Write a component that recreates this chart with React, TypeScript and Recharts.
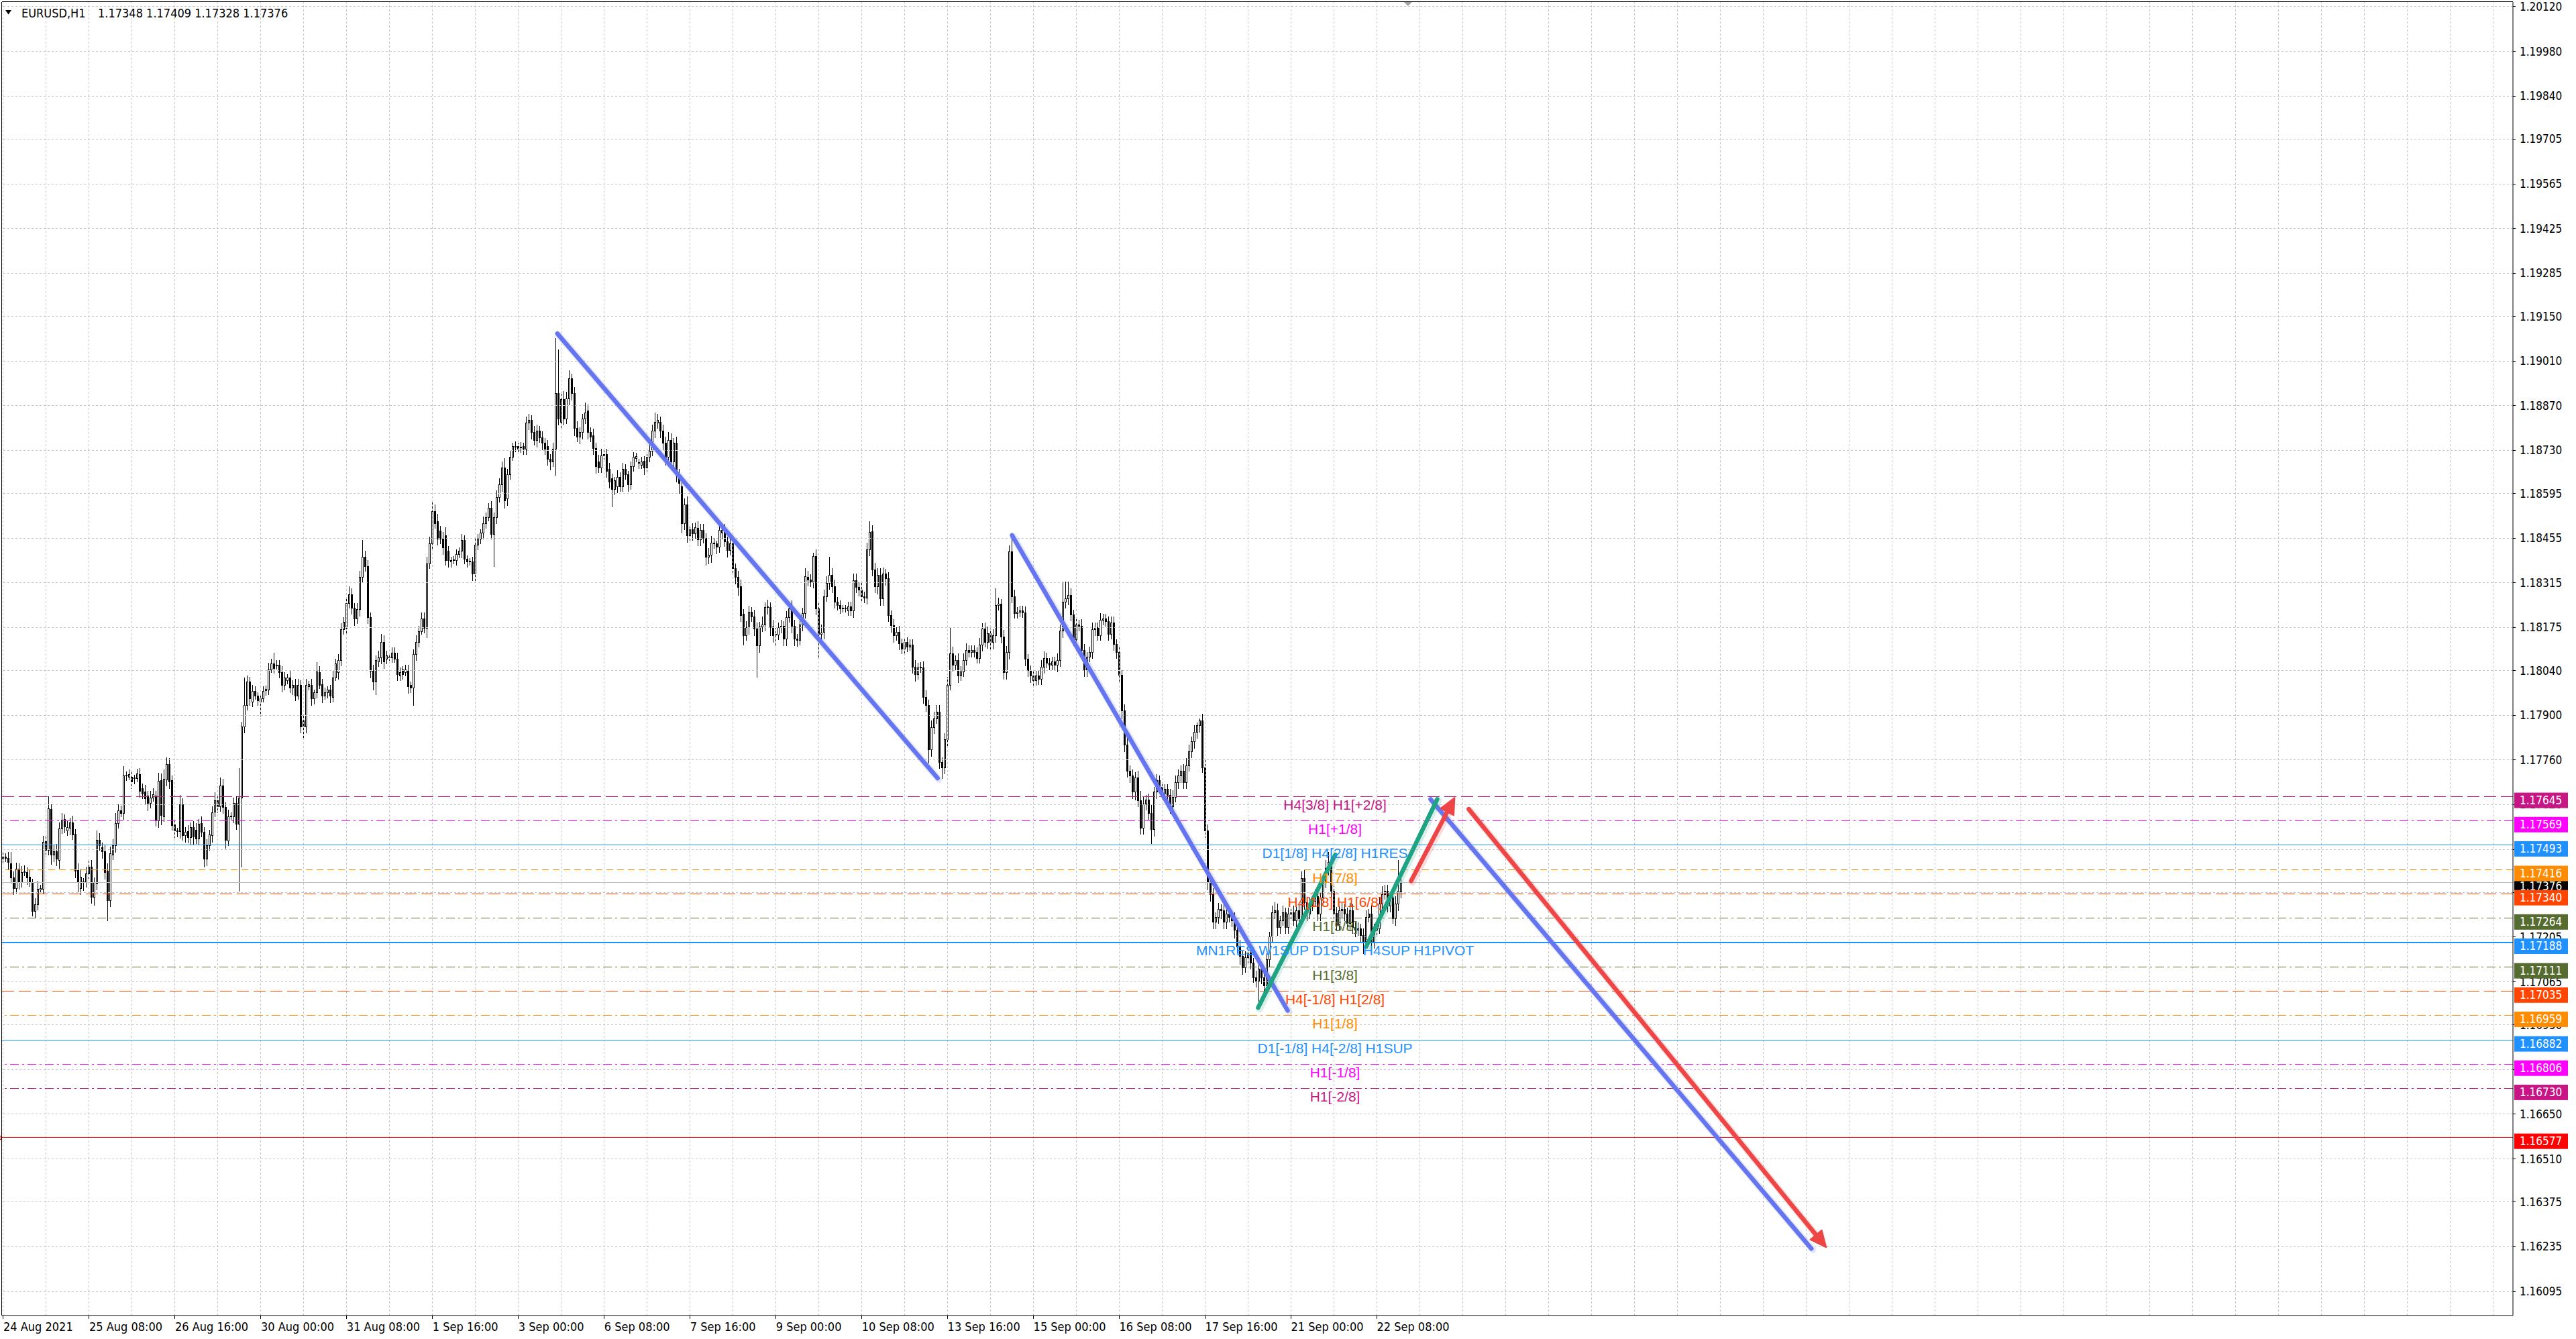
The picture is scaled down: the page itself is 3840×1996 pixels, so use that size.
import React from 'react';
import { ComposedChart, Bar, XAxis, YAxis, ReferenceLine, ReferenceDot } from 'recharts';

const CHART_W = 3840;
const CHART_H = 1996;
const SLOT_COUNT = 936;
const Y_DOMAIN: [number, number] = [1.160194, 1.201347];
const X_DOMAIN: [number, number] = [-0.5, 935.5];
const BASE_PRICE = 1.16;
const PIP = 0.0001;
const TICK_SIZE = 6;
const TICK_MARGIN = 2;

// ---- EURUSD H1 candles, values in pips above 1.16000 (bar 0 = 24 Aug 2021 00:00) ----
const openPips = [
  145.0,145.7,145.2,143.6,139.1,135.9,142.0,137.7,140.8,140.8,139.4,137.7,128.6,130.7,135.5,135.6,150.5,147.8,160.6,146.3,147.3,144.7,154.5,157.4,
  154.0,154.7,156.5,152.8,141.5,135.9,137.7,137.7,140.5,142.6,133.1,137.4,151.0,148.7,147.3,141.2,132.1,146.4,149.2,156.3,160.1,159.4,171.1,170.8,
  170.8,170.2,170.3,171.5,167.1,166.1,164.8,162.6,164.2,164.8,157.0,169.7,158.4,169.9,174.7,169.6,155.7,153.8,153.6,162.0,152.4,153.6,151.7,154.9,
  154.2,151.4,156.3,153.5,145.0,149.2,152.4,159.8,163.3,161.5,168.0,161.2,150.8,158.4,158.4,162.6,155.9,164.3,186.5,193.2,200.5,194.2,197.6,196.1,
  194.2,195.2,197.9,198.1,204.4,206.3,205.6,205.8,203.4,199.5,201.0,201.9,198.6,199.5,196.1,199.5,188.4,186.5,199.0,199.5,195.2,197.1,203.4,199.8,
  196.1,197.1,198.1,195.7,201.9,203.4,207.2,216.9,217.4,225.1,227.8,223.7,220.3,223.2,233.3,239.6,236.7,220.8,203.9,200.5,206.8,208.2,213.0,207.7,
  208.2,208.2,209.7,207.7,202.4,204.4,203.4,203.9,199.5,198.6,209.2,213.0,216.4,220.3,217.4,237.6,243.9,254.0,250.7,247.8,245.4,246.3,241.5,238.1,
  238.6,238.6,240.5,241.5,244.9,239.1,238.1,238.1,234.3,243.4,245.4,247.3,250.2,252.1,255.0,246.8,252.1,258.4,262.3,267.6,257.9,265.6,270.9,274.2,
  274.3,273.9,274.3,273.4,281.6,282.5,278.7,276.2,279.1,277.0,275.3,274.3,270.4,269.5,273.4,290.9,282.0,289.0,283.0,289.3,295.5,290.9,280.1,277.2,
  278.7,283.0,285.4,278.7,277.7,273.8,269.5,267.6,271.4,271.9,267.1,264.2,260.8,261.8,264.7,261.8,267.1,265.6,262.3,268.0,270.5,269.3,268.5,269.7,
  267.6,270.9,272.9,279.1,281.6,282.0,279.1,275.3,270.9,276.3,269.5,275.3,265.2,261.8,250.2,256.0,246.3,248.2,247.0,248.7,245.2,248.0,245.5,239.6,
  240.3,244.1,243.8,242.7,247.3,248.0,244.5,241.7,243.8,236.1,233.3,230.5,221.7,215.0,217.5,222.4,221.0,217.1,211.9,217.8,218.5,224.2,223.8,217.8,
  215.4,215.2,217.5,217.9,214.0,220.7,223.5,217.9,214.0,213.6,218.5,222.1,233.3,232.6,231.9,239.9,223.5,215.4,216.1,227.3,231.5,234.0,230.5,225.6,
  224.5,223.4,223.6,222.8,224.0,222.8,232.4,230.1,229.4,227.3,226.9,242.0,247.6,235.7,230.5,234.0,226.6,234.3,232.9,221.4,218.2,215.0,216.1,212.6,
  210.8,212.9,211.5,212.2,205.2,202.8,204.9,204.9,195.8,193.3,179.3,186.3,189.1,191.2,175.4,173.7,182.4,199.6,209.4,205.9,207.3,202.4,203.8,207.3,
  210.5,209.8,210.5,209.8,208.0,212.2,217.1,213.0,215.7,212.9,215.0,224.5,224.9,214.7,203.5,209.8,241.3,227.3,222.1,222.4,222.8,222.2,207.7,204.2,
  202.4,201.0,202.4,201.3,205.2,208.0,206.4,205.8,206.8,205.8,207.3,216.5,225.6,226.7,227.7,221.6,213.9,218.5,218.1,210.4,204.3,208.3,209.9,217.0,
  217.5,215.0,220.0,220.3,219.5,215.5,219.0,212.4,209.9,202.7,191.5,180.8,172.7,171.1,166.0,170.6,163.4,154.8,162.4,163.5,159.4,154.3,166.0,169.6,
  167.6,165.5,167.0,165.0,161.4,164.5,169.1,171.1,172.7,169.1,174.2,178.8,181.8,184.9,186.9,188.4,173.7,153.8,138.0,133.9,125.3,126.8,129.3,128.8,
  125.3,127.8,126.8,125.8,122.7,117.6,114.6,111.0,114.1,115.6,112.5,107.9,106.9,110.5,107.9,105.4,113.5,120.7,128.3,128.9,123.7,125.8,128.3,123.7,
  127.8,128.3,125.8,128.8,126.3,139.0,131.4,127.8,130.9,131.9,133.4,127.8,132.9,138.0,142.1,144.1,135.0,128.0,124.5,128.8,129.3,127.8,124.8,128.8,
  123.7,122.7,123.2,121.2,119.2,126.8,127.8,118.7,122.7,123.2,130.9,133.9,134.9,130.4,132.9,126.3,130.9,134.8,
];
const closePips = [
  145.7,145.2,144.0,139.1,135.9,141.9,137.7,140.8,141.0,139.1,138.0,128.6,130.7,135.6,135.9,150.3,147.8,160.8,146.4,147.3,145.0,154.5,157.3,155.2,
  155.0,156.4,152.6,141.2,137.7,139.4,137.9,140.5,142.6,133.1,137.7,151.0,149.2,147.3,140.8,132.1,146.8,149.2,156.3,160.1,159.4,171.1,171.3,171.5,
  169.2,170.4,171.7,166.4,165.5,164.0,162.6,164.3,165.2,157.3,169.4,158.7,170.1,174.8,169.2,155.6,153.8,153.6,162.0,152.4,153.5,151.7,154.9,152.1,
  151.4,155.9,153.5,145.0,149.2,152.6,159.5,163.3,161.5,168.0,161.3,151.0,158.4,158.6,162.6,155.9,164.3,186.4,193.2,200.5,195.2,197.6,196.1,194.7,
  195.2,197.6,198.3,204.4,206.3,204.8,205.8,203.4,199.5,201.9,201.9,198.6,199.5,196.1,199.5,186.5,186.5,199.5,199.8,195.2,197.1,203.7,199.5,196.1,
  197.1,198.1,196.1,201.9,206.3,207.2,216.9,219.3,225.1,227.8,223.7,220.3,223.2,233.3,239.6,236.7,220.8,203.9,200.5,207.2,208.2,213.0,206.8,208.7,
  208.4,209.7,207.7,202.9,203.4,202.9,204.4,199.0,198.6,209.2,213.0,216.4,220.3,217.4,237.6,243.9,254.0,250.2,245.4,245.4,242.5,238.6,238.6,238.6,
  238.8,240.5,241.5,244.9,239.1,238.1,238.3,234.3,243.4,245.4,247.3,250.2,252.1,255.0,246.8,252.1,258.4,262.3,267.6,257.4,265.6,270.9,274.3,274.4,
  273.4,274.1,273.4,281.6,282.5,278.7,276.2,279.1,277.0,275.3,273.4,270.4,269.5,273.4,290.9,283.0,289.0,283.0,289.3,295.5,290.9,280.1,277.2,278.7,
  283.0,284.9,278.7,277.2,273.8,268.0,267.6,271.4,271.9,266.6,263.2,260.8,263.7,264.7,261.8,267.1,265.6,262.3,268.0,270.9,271.2,269.0,269.5,267.6,
  270.9,272.9,279.1,282.0,282.5,279.1,275.3,270.9,276.3,269.5,275.3,265.2,262.7,250.2,256.0,246.3,248.2,247.0,248.8,245.2,248.0,245.5,239.6,240.3,
  244.1,243.8,242.7,248.0,248.0,244.5,241.7,243.8,236.1,233.3,230.1,221.4,215.0,217.5,222.4,221.0,217.1,211.9,217.8,218.5,223.8,223.8,217.5,215.0,
  215.2,217.5,217.9,214.0,220.7,223.5,217.9,214.0,213.6,218.5,222.1,233.6,232.6,231.9,239.9,223.5,215.4,216.0,227.3,231.5,234.0,230.5,225.6,224.5,
  223.5,223.6,223.4,224.0,222.8,232.4,230.1,229.4,227.3,226.9,242.0,247.5,235.7,230.5,234.0,226.6,234.3,232.9,221.4,218.2,215.0,216.1,212.6,210.8,
  212.9,211.5,212.2,205.2,202.8,204.9,205.1,195.8,193.3,179.3,186.3,189.1,191.2,175.4,173.7,182.4,199.6,209.4,205.9,207.3,202.4,203.8,207.3,210.5,
  209.8,210.5,209.8,208.0,212.2,217.1,213.0,215.7,212.9,215.0,224.5,224.9,214.7,203.5,209.8,241.3,227.3,222.1,222.4,222.8,222.2,207.7,204.2,202.4,
  201.0,202.4,201.3,205.2,208.0,206.4,205.8,206.8,205.8,207.3,216.5,225.6,226.7,227.7,221.6,213.9,218.5,218.1,210.4,204.3,208.3,209.9,217.0,217.5,
  215.0,220.0,220.3,219.5,215.5,219.0,212.4,209.9,202.7,191.5,180.8,172.7,171.1,166.0,170.6,163.4,154.8,162.4,163.5,159.4,154.3,166.0,169.6,167.6,
  165.5,167.0,165.0,161.4,164.5,169.1,171.1,172.7,169.1,174.2,178.8,181.8,184.9,186.9,188.4,173.7,153.8,138.0,133.9,125.3,126.8,129.3,128.8,125.3,
  127.8,126.8,125.8,122.7,117.6,114.6,111.0,114.1,115.6,112.5,107.9,106.9,110.5,107.9,105.4,113.5,120.7,128.3,128.9,123.7,125.8,128.3,123.7,127.8,
  128.3,125.8,128.8,126.3,139.0,131.4,127.8,130.9,131.9,133.4,127.8,132.9,138.0,142.1,144.1,135.0,128.0,124.5,128.8,129.3,127.8,124.8,128.8,123.7,
  122.7,123.2,121.2,119.2,126.8,127.8,118.7,122.7,123.2,130.9,133.9,134.9,130.4,132.9,126.3,130.9,134.9,137.6,
];
const wickUpPips = [
  1.5,1,2,3.5,2,2,1.5,2,2,1.5,2,1,2,2.5,1,2,1.5,3.9,1.5,2,2.5,2,2,1.5,
  2,1.5,2,1.5,2,2.5,1,2,2.5,2,1.5,3,2,1.5,2,2.5,2,2,3,2,1.5,3,1,1.5,
  1.5,1,1.5,2,1.5,2,1.5,2,2,1.5,2.5,2,3,2,2,1.5,2,1,3,2,1.5,2,1.5,2,
  2,1.5,2,1.5,2,1.5,2,2.5,1.5,2.5,2,1.5,2,1,1.5,2,9.1,1.6,8.7,2,1.5,2,1.5,1,
  1,1.5,1,2,1.5,3.4,1.5,1.5,2,1.5,1,2,1.5,2,2,1.5,1.5,2,1,2,1,3,2,1.5,
  1.5,1,1.5,2,1.5,2,2,1.5,2,2.5,2,1.5,2,2,5.3,2,2,1.5,2,1.5,2,2.5,2,1.5,
  1,1.5,1.5,2,1.5,1,1.5,2,1,1.5,2,1.5,2,2,2,2,2.9,2,2.5,1.5,2,2.5,1.5,1,
  1,1.5,1,2,1.5,1,1,1.5,2,1.5,1,2,1.5,1.5,2,1.5,2,2,2,3,1.5,2,1,1.5,
  1,1.5,1,2,2,1.5,2,2,1.5,2,1.5,2,1.5,2,17.2,13.8,2,2.5,2,2.5,1.5,2,2,1.5,
  1.5,3,2,1.5,2,1.5,2,2,1.5,1.5,2,1.5,1,2,1.5,2,1.5,1,1.5,1.5,1,1,1.5,1.5,
  1.5,2,2,2.9,2,1.5,2,2,2.5,2,1.5,2,2,1.5,2,2.5,1.5,2,1.5,2,2,2,1.5,2,
  2,1.5,1,2,1.5,2,1.5,2,2,1.5,2,2,1.5,2,2,1.5,2,2,1.5,2.5,1.5,2,1.5,2,
  2,1.5,2,1.5,2,2,2.5,2,1.5,2,1.5,2.5,2,1.5,1.1,2,2,2.5,2,2,5.6,2,2,1.5,
  1.5,1,1,1.5,1.5,2,2,1.5,2,1.5,2,3.3,2,2,2,2,2,1.5,2,1.5,2,1.5,2,1.5,
  1.5,1.5,1.5,1.5,2,1.5,1.5,2,2,1.5,2,2,2,2,1.5,2,2.5,8.1,2,1.5,2,1.5,2,2,
  1.5,1.5,1.5,1.5,2,1.8,2,2,1.5,2,5.3,2,1.5,2,2,2,4.9,2,1.5,1.5,1.5,2,1.5,1.5,
  1.5,1.5,1.5,2,2,1.5,1.5,1.5,1.5,2,2,6.2,5.1,4.1,2,1.5,2,1.5,2,2,1.5,1.5,2,1.5,
  1.5,2,1.5,1.5,1.5,2,2,1.5,2,1.5,2,2.5,1.5,2,1.5,2,3,2,1.5,2,2.5,1.5,2,1.5,
  1.5,1.5,1.5,2,2,2,2,1.5,2,2.5,2,1.5,2,0.8,0.6,2,2.5,2,1.5,2,1.5,2,1.5,2.1,
  2,1.5,2,2.5,1.5,2,1.5,2,2.5,2,1.5,2,2,1.5,2,2,1.5,2,2.5,2,1.5,2,1.5,2,
  1.5,2,1.5,2,2,2.5,1.5,2,1.5,2,2,1.5,2,2.5,3,2,1.5,2,1.5,2,1.5,2,2.5,2,
  1.5,2,1.5,2,2,1.5,2.5,2,1.5,2,2.5,2,2,1.5,2,2.5,9.8,3.3,
];
const wickDownPips = [
  1.5,1,2,1.5,2,1.5,2,1.5,1,2,1.5,1.4,2,1.5,1,1.5,2,1.5,3,2,2,2.5,1.5,2,
  1.5,2,1.5,2,3,2,2.5,1.5,2,2,2.5,2,1.5,2,2,6.3,2,1.5,2,1.5,1,2,1.5,1,
  2,1.5,1,2,1.5,2,2.5,1.5,1,2,2,3,1.5,2,2,1.5,2,1.5,2,1.5,2,1.5,2,2.5,
  1.5,2,1.5,2.5,2,1.5,2,1.5,2,1.5,2,2.5,1.5,1,2,1.5,21,21.7,2,1.5,2,1.5,1,1.5,
  4.3,1,1.5,1.5,1,1.5,1,1.5,2,1.5,1,1.5,2,1.5,1,2,3.4,2,1,2,1.5,1.5,1,2,
  1,1.5,2,1.5,1,2,1.5,1.5,2,1.5,2,2,1.5,2,1.5,1.5,2,2,2.5,3.9,1.5,2,2,1.5,
  1,1.5,1,2,1.5,1.5,1,2,1.5,5.3,2,1.5,1,1.5,3,1.5,2,1.5,2,1.5,2,1.5,2,1.5,
  1,1.5,1,2,1.5,1.5,1,2,2.5,1.5,1.5,2,1.5,1,1.5,10.1,2,1.5,2,2.5,2,1.5,1,1.5,
  1,1.5,1.5,1.5,2,2,1.5,2,1.5,2,1.5,2,2.5,1.5,8.1,2,2.5,2,1.5,2,2,2.5,1.5,2,
  2,1.5,2,1.5,2,2,1.5,1.5,1,2,2,5.3,1.5,2,1.5,1.5,1.5,2,1.5,1.5,1,1.5,1,2,
  1,1.5,1.5,2,1.5,2,2,2.5,2,2,2.5,2,3,3,2,2,1.5,2,1.5,2,2,1.5,2.5,2,
  2.3,1.5,2,1.5,2,1.5,2,1.5,2,2,2.5,2,2.8,1.5,2,1.5,2,9.8,2,1.5,2,2,2.5,2,
  3,1.5,1.5,2,2,1.5,2,2,2,1.5,2,1.5,2,1.5,2,2,7.4,1.5,2,1.5,2,2,2,1.5,
  1.5,1,1,1.5,1.5,2,1.5,2,1.5,1.5,2,2,2,2,2.5,2,2,2,2,2,2,1.5,2,1.5,
  1.5,1.5,1,2,2,1.5,1.5,2,2,4.2,2,2,1.5,2,3.5,2,2,1.5,2,1.5,2,1.5,1.5,1.5,
  1.5,1.5,1.5,1.5,1.5,2,1.5,2,2,2,2,1.5,2,2,2,2,2,1.5,1.5,1.5,1.5,2,2,2,
  2,1.5,1.5,1.5,2,1.5,1.5,1.5,1.5,2,2,2,2,2,2,2,2,1.5,2,2,2,1.5,2,2,
  1.5,1.5,1.5,1.5,2,1.5,2,2,2,2.5,2,2,2,2,2.5,2,2,2,2,2,4.3,2,2,2,
  1.5,1.5,1.5,2,2,1.5,2,2,2,2,1.5,2,2,2,2,1.5,2,2.5,2,2,2,2,2.5,2,
  2,1.5,2,2.5,2,2.5,2,1.5,2,2,1.5,2,6.6,2,1.5,2,2,1.5,2,2.5,2,1.5,2,2,
  2,1.5,2,2,1.5,2,2,1.5,2,1.5,2,2,1.5,2,2,2,2.5,2,1.5,2,2,1.5,2,2,
  2,1.5,2,3.7,2,1.5,2,1.5,2,1.5,2,1.5,2,2,1.5,2,2,2.0,
];

// ---- axes ----
const priceTicks = [
  1.2012, 1.1998, 1.1984, 1.19705, 1.19565, 1.19425, 1.19285, 1.1915, 1.1901, 1.1887,
  1.1873, 1.18595, 1.18455, 1.18315, 1.18175, 1.1804, 1.179, 1.1776, 1.1762, 1.1748,
  1.17345, 1.17205, 1.17065, 1.1693, 1.1679, 1.1665, 1.1651, 1.16375, 1.16235, 1.16095,
];
const dateTickBars = [0, 32, 64, 96, 128, 160, 192, 224, 256, 288, 320, 352, 384, 416, 448, 480, 512];
const dateTickLabels = [
  '24 Aug 2021', '25 Aug 08:00', '26 Aug 16:00', '30 Aug 00:00', '31 Aug 08:00', '1 Sep 16:00',
  '3 Sep 00:00', '6 Sep 08:00', '7 Sep 16:00', '9 Sep 00:00', '10 Sep 08:00', '13 Sep 16:00',
  '15 Sep 00:00', '16 Sep 08:00', '17 Sep 16:00', '21 Sep 00:00', '22 Sep 08:00',
];
const GRID_STEP_BARS = 16;
const gridBars = Array.from({ length: 59 }, (_, k) => k * GRID_STEP_BARS);

// ---- Murrey / pivot levels ----
const levelPrices = [1.17645, 1.17569, 1.17493, 1.17416, 1.1734, 1.17264, 1.17188, 1.17111, 1.17035, 1.16959, 1.16882, 1.16806, 1.1673];
const levelTexts = [
  'H4[3/8] H1[+2/8]', 'H1[+1/8]', 'D1[1/8] H4[2/8] H1RES', 'H1[7/8]', 'H4[1/8] H1[6/8]', 'H1[5/8]',
  'MN1RES W1SUP D1SUP H4SUP H1PIVOT', 'H1[3/8]', 'H4[-1/8] H1[2/8]', 'H1[1/8]', 'D1[-1/8] H4[-2/8] H1SUP',
  'H1[-1/8]', 'H1[-2/8]',
];
const bidPrice = 1.17376;
const alertPrice = 1.16577;
const LABEL_BAR = 496.4;
const SHIFT_BAR = 523.6;

// ---- drawn trend lines: [bar, price] endpoints ----
const blueTrends = [
  [[206.5, 1.19096], [348.25, 1.17703]],
  [[376, 1.18464], [478.75, 1.16975]],
  [[532, 1.17637], [674, 1.16229]],
];
const greenTrends = [
  [[467.75, 1.16984], [496.5, 1.17463]],
  [[508, 1.17175], [534.5, 1.17637]],
];
const redArrows = [
  [[524.75, 1.17381], [541, 1.17642]],
  [[546.25, 1.17606], [679.5, 1.16233]],
];

const headerSymbol = 'EURUSD,H1';
const headerQuote = '1.17348 1.17409 1.17328 1.17376';

// ---- styles ----
const MAGENTA_RED = '#C71585';
const MAGENTA = '#FF00FF';
const DODGER = '#1E90FF';
const ORANGE = '#FF8C00';
const ORANGE_RED = '#FF4500';
const OLIVE = '#556B2F';
const levelColors = [MAGENTA_RED, MAGENTA, DODGER, ORANGE, ORANGE_RED, OLIVE, DODGER, OLIVE, ORANGE_RED, ORANGE, DODGER, MAGENTA, MAGENTA_RED];
const DASH = '18 7';
const DASHDOT = '13 5 3 5';
const levelDashes = [DASH, DASHDOT, undefined, '10 6', DASH, DASHDOT, undefined, DASHDOT, DASH, DASHDOT, undefined, DASHDOT, DASHDOT];
const levelWidths = [1, 1, 1, 1, 1, 1, 2, 1, 1, 1, 1, 1, 1];
const GRID_COLOR = '#C4C4C4';
const BLUE_TREND = '#6574EF';
const GREEN_TREND = '#1FA383';
const RED_TREND = '#EE4646';
const MT_FONT = "'DejaVu Sans Condensed', 'DejaVu Sans', sans-serif";
const LABEL_FONT = "'Liberation Sans', Arial, sans-serif";

const toPrice = (p: number) => +(BASE_PRICE + p * PIP).toFixed(5);

const rows = Array.from({ length: SLOT_COUNT }, (_, i) => {
  if (i >= openPips.length) return { slot: i };
  const o = openPips[i];
  const c = closePips[i];
  const hi = Math.max(o, c) + wickUpPips[i];
  const lo = Math.min(o, c) - wickDownPips[i];
  return { slot: i, o: toPrice(o), c: toPrice(c), h: toPrice(hi), l: toPrice(lo), range: [toPrice(lo), toPrice(hi)] };
});

const key = (v: number) => v.toFixed(5);
const boxColorByPrice: Record<string, string> = {};
boxColorByPrice[key(bidPrice)] = '#000000';
levelPrices.forEach((p, i) => { boxColorByPrice[key(p)] = levelColors[i]; });
boxColorByPrice[key(alertPrice)] = '#FF0000';
const yTicks = [...priceTicks, bidPrice, ...levelPrices, alertPrice];

const Candle = (props: any) => {
  const { x, y, width, height, payload } = props;
  if (!payload || payload.o == null || x == null || y == null) return null;
  const { o, c, h, l } = payload;
  const top = Math.min(y, y + height);
  const span = Math.abs(height);
  const py = (v: number) => (h === l ? top : top + ((h - v) / (h - l)) * span);
  const cx = Math.floor(x + width / 2) + 0.5;
  const bull = c > o;
  const bt = Math.round(py(Math.max(o, c))) + 0.5;
  const bb = Math.round(py(Math.min(o, c))) + 0.5;
  return (
    <g shapeRendering="crispEdges">
      <line x1={cx} x2={cx} y1={Math.round(py(h))} y2={Math.round(py(l)) + 1} stroke="#000" strokeWidth={1} />
      {bb - bt < 1 ? (
        <line x1={cx - 1.5} x2={cx + 1.5} y1={bt} y2={bt} stroke="#000" strokeWidth={1} />
      ) : (
        <rect x={cx - 1} y={bt} width={2} height={bb - bt} fill={bull ? '#FFFFFF' : '#000000'} stroke="#000" strokeWidth={1} />
      )}
    </g>
  );
};

const hLine = (color: string, dash: string | undefined, width: number, marker = false) => (p: any) => {
  if (p.y1 == null) return null;
  const yy = width % 2 === 1 ? Math.round(p.y1 - 0.5) + 0.5 : Math.round(p.y1);
  return (
    <g>
      <line x1={p.x1} x2={p.x2} y1={yy} y2={yy} stroke={color} strokeWidth={width} strokeDasharray={dash} shapeRendering="crispEdges" />
      {marker && <rect x={p.x2 - 6.5} y={yy - 2.5} width={5} height={5} fill="#FFFFFF" stroke={color} strokeWidth={1} shapeRendering="crispEdges" />}
    </g>
  );
};

const vGrid = (p: any) => {
  if (p.x1 == null) return null;
  const xx = Math.round(p.x1 - 0.5) + 0.5;
  return <line x1={xx} x2={xx} y1={p.y1} y2={p.y2} stroke={GRID_COLOR} strokeWidth={1} strokeDasharray="3 3" shapeRendering="crispEdges" />;
};

const trendShape = (color: string, arrow: boolean) => (p: any) => {
  const { x1, y1, x2, y2 } = p;
  if ([x1, y1, x2, y2].some((v) => v == null || Number.isNaN(v))) return null;
  const ang = Math.atan2(y2 - y1, x2 - x1);
  const headLen = 24;
  const headHalf = 11;
  const ex = arrow ? x2 - Math.cos(ang) * (headLen - 4) : x2;
  const ey = arrow ? y2 - Math.sin(ang) * (headLen - 4) : y2;
  const bx = x2 - Math.cos(ang) * headLen;
  const by = y2 - Math.sin(ang) * headLen;
  const nx = -Math.sin(ang);
  const ny = Math.cos(ang);
  return (
    <g>
      <line x1={x1 + 2} y1={y1 + 2} x2={ex + 2} y2={ey + 2} stroke={color} strokeOpacity={0.18} strokeWidth={10} strokeLinecap="round" />
      <line x1={x1} y1={y1} x2={ex} y2={ey} stroke={color} strokeWidth={6.5} strokeLinecap="round" />
      {arrow && (
        <polygon
          points={`${x2},${y2} ${bx + nx * headHalf},${by + ny * headHalf} ${bx - nx * headHalf},${by - ny * headHalf}`}
          fill={color}
          stroke={color}
          strokeWidth={2}
          strokeLinejoin="round"
        />
      )}
    </g>
  );
};

const levelText = (text: string, color: string) => (p: any) => {
  if (p.cx == null || p.cy == null) return null;
  return (
    <text x={p.cx} y={p.cy + 12} textAnchor="middle" dominantBaseline="central" fill={color} fontFamily={LABEL_FONT} fontSize={21}>
      {text}
    </text>
  );
};

const shiftMarker = (p: any) => {
  if (p.cx == null) return null;
  const cx = p.cx;
  const cy = p.cy;
  return <polygon points={`${cx - 6},${cy} ${cx + 6},${cy} ${cx},${cy + 6}`} fill="#A0A0A0" />;
};

const YTick = (props: any) => {
  const { x, y, payload } = props;
  const v = payload?.value;
  if (v == null) return null;
  const ax = x - TICK_SIZE - TICK_MARGIN;
  const box = boxColorByPrice[key(v)];
  if (box) {
    return (
      <g>
        <rect x={ax + 2} y={y - 6} width={80} height={23} fill={box} />
        <text x={ax + 10} y={y + 5.5} dominantBaseline="central" fill="#FFFFFF" fontFamily={MT_FONT} fontStretch="condensed" fontSize={17}>
          {v.toFixed(5)}
        </text>
      </g>
    );
  }
  const yy = Math.round(y - 0.5) + 0.5;
  return (
    <g>
      <line x1={ax} x2={ax + 4} y1={yy} y2={yy} stroke="#000" strokeWidth={1} shapeRendering="crispEdges" />
      <text x={ax + 10} y={y} dominantBaseline="central" fill="#000" fontFamily={MT_FONT} fontStretch="condensed" fontSize={17}>
        {v.toFixed(5)}
      </text>
    </g>
  );
};

const XTick = (props: any) => {
  const { x, y, payload } = props;
  const idx = dateTickBars.indexOf(payload?.value);
  if (idx < 0) return null;
  const ay = y - TICK_SIZE - TICK_MARGIN;
  const xx = Math.round(x - 0.5) + 0.5;
  return (
    <g>
      <line x1={xx} x2={xx} y1={ay} y2={ay + 5} stroke="#000" strokeWidth={1} shapeRendering="crispEdges" />
      <text x={x} y={ay + 16} dominantBaseline="central" textAnchor="start" fill="#000" fontFamily={MT_FONT} fontStretch="condensed" fontSize={18}>
        {dateTickLabels[idx]}
      </text>
    </g>
  );
};

export default function App() {
  return (
    <div style={{ position: 'absolute', left: 0, top: 0, width: CHART_W, height: CHART_H, background: '#FFFFFF', overflow: 'hidden' }}>
      <ComposedChart width={CHART_W} height={CHART_H} data={rows} margin={{ top: 3, right: 0, bottom: 0, left: 3 }}>
        <XAxis xAxisId="c" dataKey="slot" type="category" orientation="top" hide />
        <XAxis
          xAxisId="n"
          dataKey="slot"
          type="number"
          domain={X_DOMAIN}
          allowDataOverflow
          ticks={dateTickBars}
          interval={0}
          tick={XTick}
          tickLine={false}
          tickSize={TICK_SIZE}
          tickMargin={TICK_MARGIN}
          height={35}
          axisLine={{ stroke: '#000000' }}
        />
        <YAxis
          orientation="right"
          type="number"
          domain={Y_DOMAIN}
          allowDataOverflow
          ticks={yTicks}
          interval={0}
          tick={YTick}
          tickLine={false}
          tickSize={TICK_SIZE}
          tickMargin={TICK_MARGIN}
          width={94}
          axisLine={{ stroke: '#000000' }}
        />
        {priceTicks.map((p) => (
          <ReferenceLine key={`hg${p}`} xAxisId="n" y={p} shape={hLine(GRID_COLOR, '3 3', 1)} />
        ))}
        {gridBars.map((b) => (
          <ReferenceLine key={`vg${b}`} xAxisId="n" x={b} shape={vGrid} />
        ))}
        <Bar xAxisId="c" dataKey="range" shape={Candle} isAnimationActive={false} />
        <ReferenceLine xAxisId="n" y={bidPrice} shape={hLine('#C0C0C0', undefined, 1)} />
        <ReferenceLine xAxisId="n" y={alertPrice} shape={hLine('#FF0000', undefined, 1, true)} />
        {levelPrices.map((p, i) => (
          <ReferenceLine key={`lv${p}`} xAxisId="n" y={p} shape={hLine(levelColors[i], levelDashes[i], levelWidths[i])} />
        ))}
        {blueTrends.map((s, i) => (
          <ReferenceLine key={`bt${i}`} xAxisId="n" segment={[{ x: s[0][0], y: s[0][1] }, { x: s[1][0], y: s[1][1] }]} shape={trendShape(BLUE_TREND, false)} />
        ))}
        {greenTrends.map((s, i) => (
          <ReferenceLine key={`gt${i}`} xAxisId="n" segment={[{ x: s[0][0], y: s[0][1] }, { x: s[1][0], y: s[1][1] }]} shape={trendShape(GREEN_TREND, false)} />
        ))}
        {redArrows.map((s, i) => (
          <ReferenceLine key={`ra${i}`} xAxisId="n" segment={[{ x: s[0][0], y: s[0][1] }, { x: s[1][0], y: s[1][1] }]} shape={trendShape(RED_TREND, true)} />
        ))}
        {levelPrices.map((p, i) => (
          <ReferenceDot key={`lt${p}`} xAxisId="n" x={LABEL_BAR} y={p} r={0} shape={levelText(levelTexts[i], levelColors[i])} />
        ))}
        <ReferenceDot xAxisId="n" x={SHIFT_BAR} y={Y_DOMAIN[1]} r={0} shape={shiftMarker} />
      </ComposedChart>
      <svg width={CHART_W} height={CHART_H} style={{ position: 'absolute', left: 0, top: 0, pointerEvents: 'none' }}>
        <line x1={2.5} y1={2.5} x2={3746} y2={2.5} stroke="#000" strokeWidth={1} shapeRendering="crispEdges" />
        <line x1={2.5} y1={2.5} x2={2.5} y2={1961} stroke="#000" strokeWidth={1} shapeRendering="crispEdges" />
        <polygon points="8,15 17,15 12.5,21.5" fill="#000" />
        <text x={32} y={26} fill="#000" fontFamily={MT_FONT} fontStretch="condensed" fontSize={18}>{headerSymbol}</text>
        <text x={146} y={26} fill="#000" fontFamily={MT_FONT} fontStretch="condensed" fontSize={18}>{headerQuote}</text>
      </svg>
    </div>
  );
}
